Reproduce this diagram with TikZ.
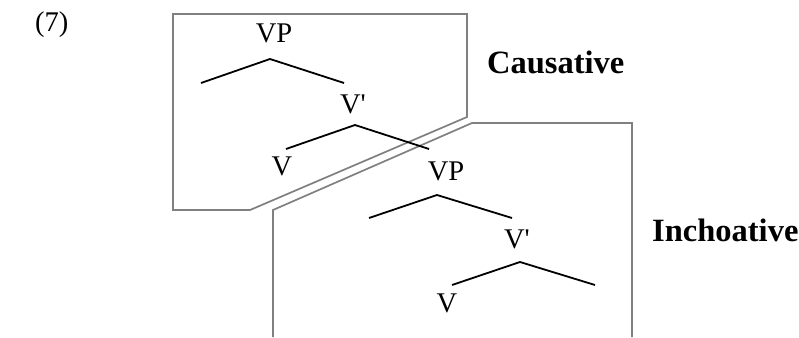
\documentclass[tikz,border=0pt]{standalone}
\usepackage{fontspec}
\setmainfont{Liberation Serif}
\usepackage{tikz}
\usetikzlibrary{positioning}
\definecolor{boxgray}{RGB}{128,128,128}

\begin{document}
\begin{tikzpicture}[x=1pt, y=-1pt,
  cat/.style={inner sep=0pt, anchor=base, font=\fontsize{28.5}{32}\selectfont},
  tag/.style={inner sep=0pt, anchor=base west, font=\fontsize{32.5}{36}\selectfont\bfseries},
  branch/.style={line width=1.8pt, black},
  frame/.style={line width=1.7pt, draw=boxgray},
]
\useasboundingbox (0,0) rectangle (799,337);

\node[cat, anchor=base west] (ex) at (35,32) {(7)};

% causative box
\draw[frame] (173,210) -- (173,14) -- (467,14) -- (467,117) -- (250,210) -- cycle;
% inchoative box
\draw[frame] (273,337) -- (273,210) -- (472,123) -- (632,123) -- (632,337);

\node[tag] (caus) at (487,74) {Causative};
\node[tag] (inch) at (652,241) {Inchoative};

% upper tree
\node[cat] (vp1) at (274,42) {VP};
\node[cat] (vb1) at (353,113) {V\textquotesingle};
\node[cat] (v1)  at (282,175) {V};
\coordinate (vp1top) at (270,59);
\coordinate (vp1l) at (201,83);
\coordinate (vp1r) at (344,83);
\coordinate (vb1top) at (355,125);
\coordinate (vb1l) at (286,149);
\coordinate (vb1r) at (429,149);
\draw[branch] (vp1l) -- (vp1top) -- (vp1r);
\draw[branch] (vb1l) -- (vb1top) -- (vb1r);

% lower tree
\node[cat] (vp2) at (446,180) {VP};
\node[cat] (vb2) at (517,248) {V\textquotesingle};
\node[cat] (v2)  at (447,312) {V};
\coordinate (vp2top) at (437,195);
\coordinate (vp2l) at (369,218);
\coordinate (vp2r) at (512,218);
\coordinate (vb2top) at (520,262);
\coordinate (vb2l) at (452,285);
\coordinate (vb2r) at (595,285);
\draw[branch] (vp2l) -- (vp2top) -- (vp2r);
\draw[branch] (vb2l) -- (vb2top) -- (vb2r);

\end{tikzpicture}
\end{document}
